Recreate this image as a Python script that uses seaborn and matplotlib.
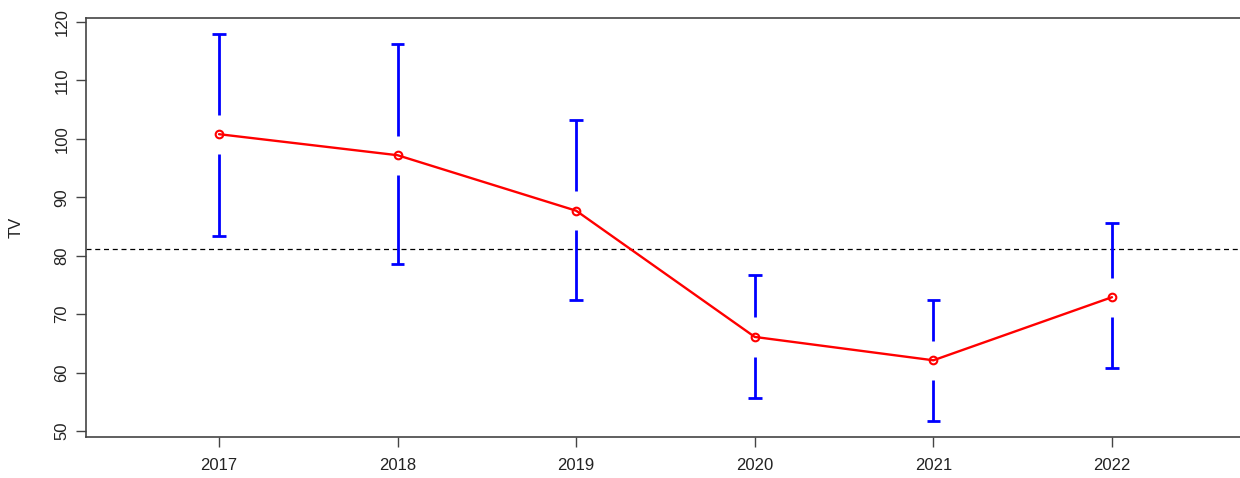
import matplotlib
matplotlib.use("Agg")
import matplotlib.pyplot as plt
import seaborn as sns
import numpy as np
import pandas as pd

years = [2017, 2018, 2019, 2020, 2021, 2022]
means = [100.8, 97.2, 87.7, 66.1, 62.1, 72.9]
upper = [118.0, 116.2, 103.2, 76.7, 72.4, 85.6]
lower = [83.4, 78.5, 72.4, 55.7, 51.7, 60.7]
grand_mean = 81.1
y_ticks = [50, 60, 70, 80, 90, 100, 110, 120]
y_label = "TV"

sns.set_style("white")
plt.rcParams['font.family'] = ['Liberation Sans', 'DejaVu Sans']

df = pd.DataFrame({"year": years, "mean": means, "upper": upper, "lower": lower})

fig = plt.figure(figsize=(12.4, 4.78), dpi=100)
W, H = 1240, 478
left, right, top, bottom = 86, 1245, 18, 437
ax = fig.add_axes([left / W, (H - bottom) / H, (right - left) / W, (bottom - top) / H])

gap = 3.35
cap = 0.038
x = df["year"].to_numpy()
m = df["mean"].to_numpy()
ax.vlines(x, m + gap, df["upper"], color="#0000ff", lw=2.0, zorder=2)
ax.vlines(x, df["lower"], m - gap, color="#0000ff", lw=2.0, zorder=2)
ax.hlines(df["upper"], x - cap, x + cap, color="#0000ff", lw=2.0, zorder=2)
ax.hlines(df["lower"], x - cap, x + cap, color="#0000ff", lw=2.0, zorder=2)

sns.lineplot(data=df, x="year", y="mean", ax=ax, color="#ff0000", lw=1.7,
             marker="o", markersize=5.5, markerfacecolor="none",
             markeredgecolor="#ff0000", markeredgewidth=1.5, zorder=3)

ax.axhline(grand_mean, color="black", lw=0.9, ls=(0, (4, 3)), zorder=1)

ax.set_xlim(2016.2553, 2022.745)
y0 = 50 - (437 - 431) / 5.84
y1 = 120 + (22 - 18) / 5.84
ax.set_ylim(y0, y1)
ax.set_xticks(years)
ax.set_xticklabels([str(y) for y in years])
ax.set_yticks(y_ticks)
ax.set_yticklabels([str(t) for t in y_ticks], rotation=90, va="center")
ax.set_xlabel("")
ax.set_ylabel(y_label, fontsize=12, color="#222222", labelpad=22)

ax.tick_params(axis="both", which="both", direction="out", length=7, width=1,
               color="#444444", labelsize=12, labelcolor="#222222",
               left=True, bottom=True)
ax.tick_params(axis="x", pad=8)
ax.tick_params(axis="y", pad=5)
for s in ax.spines.values():
    s.set_visible(True)
    s.set_color("#444444")
    s.set_linewidth(1.2)

fig.savefig("out.png", dpi=100)
